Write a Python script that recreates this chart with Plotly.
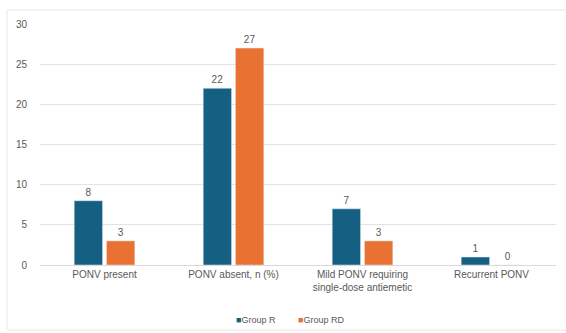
import plotly.graph_objects as go

categories = ["PONV present", "PONV absent, n (%)", "Mild PONV requiring<br>single-dose antiemetic", "Recurrent PONV"]
group_r = [8, 22, 7, 1]
group_rd = [3, 27, 3, 0]
y_ticks = [0, 5, 10, 15, 20, 25, 30]
series_names = ["Group R", "Group RD"]
series_colors = ["#156082", "#E97132"]

font = dict(family="Liberation Sans, Arial, sans-serif", size=10, color="#595959")

fig = go.Figure()
for name, vals, col in zip(series_names, [group_r, group_rd], series_colors):
    fig.add_trace(go.Bar(name=name, x=categories, y=vals, marker_color=col,
                         text=vals, textposition="outside", textfont=font, cliponaxis=False,
                         showlegend=False))

legend_text = ("&nbsp;" * 9).join(
    f"<span style='color:{c}'>■</span>{n}" for n, c in zip(series_names, series_colors))

fig.update_layout(
    width=566, height=333,
    margin=dict(l=40, r=10, t=24, b=68),
    paper_bgcolor="white", plot_bgcolor="white",
    barmode="group", bargap=0.5, bargroupgap=0.12,
    font=font,
    xaxis=dict(showgrid=False, showline=True, linecolor="#d9d9d9", ticks="",
               tickfont=font),
    yaxis=dict(range=[0, 30], tickvals=y_ticks, showgrid=True, gridcolor="#e3e3e3",
               zeroline=False, showline=False, ticks="", tickfont=font,
               ticklabelstandoff=12),
    annotations=[dict(text=legend_text, xref="paper", yref="paper", x=0.485, xanchor="center",
                      y=(333 - 320 - 68) / (333 - 24 - 68), yanchor="middle", showarrow=False,
                      font=dict(size=9, color="#595959"))],
    shapes=[dict(type="rect", xref="paper", yref="paper",
                 x0=(7 - 40) / 516, x1=(570 - 40) / 516,
                 y0=(265 - 330) / 241, y1=(265 - 10) / 241,
                 line=dict(color="#e6e6e6", width=1), fillcolor="rgba(0,0,0,0)")],
)

fig.write_html("out.html")
